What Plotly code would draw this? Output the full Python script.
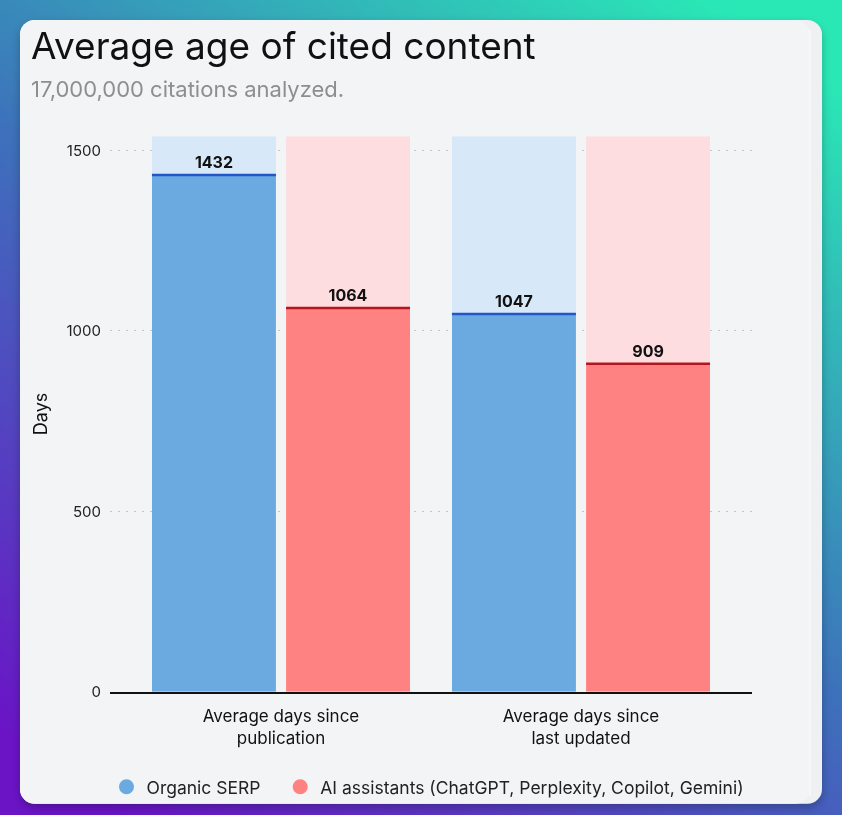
import base64
import plotly.graph_objects as go

# ---- data ----
categories = ["Average days since publication", "Average days since last updated"]
category_labels = ["Average days since<br>publication", "Average days since<br>last updated"]
series_names = ["Organic SERP", "AI assistants (ChatGPT, Perplexity, Copilot, Gemini)"]
organic_serp = [1432, 1047]
ai_assistants = [1064, 909]
y_tick_values = [0, 500, 1000, 1500]

# ---- style ----
W, H = 842, 824
K = 1 / 0.988          # vertical compensation for the photographed page
Y_MAX = 1540
FONT = "Inter"
TEXT = "#111111"
BLUE, BLUE_TRACK, BLUE_LINE = "#6aaae0", "#d7e8f8", "#2456c8"
RED, RED_TRACK, RED_LINE = "#ff8282", "#fddde0", "#b3161b"
BAR_W = 0.413
OFFSETS = [-0.43, 0.017]
LEGEND_PAD = "\u00a0\u00a0\u00a0"


def py(px):
    """paper y fraction for a pixel row measured from the top"""
    return 1 - px * K / H


card_top, card_h = 20 * K, 783 * K
svg = f"""<svg xmlns='http://www.w3.org/2000/svg' width='{W}' height='{H}' viewBox='0 0 {W} {H}' preserveAspectRatio='none'>
<defs>
<linearGradient id='g' x1='0.15' y1='1' x2='0.85' y2='0'>
<stop offset='0' stop-color='#6a14c6'/>
<stop offset='0.5' stop-color='#3d72bb'/>
<stop offset='1' stop-color='#2ae8b6'/>
</linearGradient>
<filter id='s' x='-5%' y='-5%' width='110%' height='115%'>
<feDropShadow dx='0' dy='4' stdDeviation='5' flood-color='#000' flood-opacity='0.25'/>
</filter>
</defs>
<rect width='{W}' height='{H}' fill='url(#g)'/>
<rect x='20' y='{card_top:.1f}' width='802' height='{card_h:.1f}' rx='15' fill='#eff0f2' filter='url(#s)'/>
<rect x='20' y='{card_top:.1f}' width='790' height='{card_h:.1f}' rx='15' fill='#f3f4f6'/>
<line x1='810' y1='{card_top + 10:.1f}' x2='810' y2='{card_top + card_h - 8:.1f}' stroke='#fafafa' stroke-width='1.5'/>
</svg>"""
bg_uri = "data:image/svg+xml;base64," + base64.b64encode(svg.encode()).decode()

fig = go.Figure()

# background tracks
for off, col in zip(OFFSETS, [BLUE_TRACK, RED_TRACK]):
    fig.add_trace(go.Bar(
        x=categories, y=[Y_MAX] * len(categories), offset=off, width=BAR_W,
        marker=dict(color=col, line=dict(width=0)), showlegend=False, hoverinfo="skip",
    ))

# value bars
for vals, off, col, lcol, name in zip([organic_serp, ai_assistants], OFFSETS,
                                      [BLUE, RED], [BLUE_LINE, RED_LINE], series_names):
    fig.add_trace(go.Bar(
        x=categories, y=vals, offset=off, width=BAR_W, name=name,
        marker=dict(color=col, line=dict(width=0)),
        text=vals, texttemplate="<b>%{y}</b>", textposition="outside",
        textfont=dict(family=FONT, size=16, color=TEXT), cliponaxis=False,
        error_y=dict(type="data", array=[0] * len(vals), width=62, thickness=2.5, color=lcol),
        showlegend=False,
    ))

# legend entries with circle markers
for i, (col, name) in enumerate(zip([BLUE, RED], series_names)):
    fig.add_trace(go.Scatter(
        x=[None], y=[None], mode="markers",
        name=name + (LEGEND_PAD if i == 0 else ""),
        marker=dict(symbol="circle", size=15, color=col),
    ))

fig.update_layout(
    width=W, height=H,
    margin=dict(l=0, r=0, t=0, b=0),
    paper_bgcolor="rgba(0,0,0,0)", plot_bgcolor="rgba(0,0,0,0)",
    barmode="overlay",
    font=dict(family=FONT, color=TEXT),
    images=[dict(source=bg_uri, xref="paper", yref="paper", x=0, y=1,
                 sizex=1, sizey=1, xanchor="left", yanchor="top",
                 sizing="stretch", layer="below")],
    xaxis=dict(
        domain=[110 / W, 752 / W], range=[-0.57, 1.57],
        tickvals=categories, ticktext=category_labels,
        tickfont=dict(size=17, color=TEXT), ticks="", ticklabelstandoff=8,
        showline=True, linecolor="#111111", linewidth=2, showgrid=False, zeroline=False,
    ),
    yaxis=dict(
        domain=[py(691), py(136)], range=[0, Y_MAX],
        tickvals=y_tick_values, tickfont=dict(size=15, color="#222222"),
        ticklabelstandoff=8, showgrid=True, gridcolor="#c4c6c8", griddash="2px,6px",
        gridwidth=1.2, zeroline=False,
        title=dict(text="Days", font=dict(size=18, color=TEXT), standoff=14),
    ),
    legend=dict(orientation="h", x=428 / W, xanchor="center", y=py(786),
                yanchor="middle", font=dict(size=17.5, color="#222222"),
                bgcolor="rgba(0,0,0,0)"),
    annotations=[
        dict(text="Average age of cited content", x=29 / W, y=py(45),
             xref="paper", yref="paper", xanchor="left", yanchor="middle",
             showarrow=False, font=dict(size=37, color=TEXT)),
        dict(text="17,000,000 citations analyzed.", x=29 / W, y=py(89),
             xref="paper", yref="paper", xanchor="left", yanchor="middle",
             showarrow=False, font=dict(size=22, color="#8e8e8e")),
    ],
)

fig.write_html(
    "out.html",
    config={"displayModeBar": False},
    post_script=(
        "document.body.style.margin='0';document.body.style.overflow='hidden';"
        "var d=document.getElementById('{plot_id}');"
        "d.style.position='fixed';d.style.top='0';d.style.left='0';"
    ),
)
